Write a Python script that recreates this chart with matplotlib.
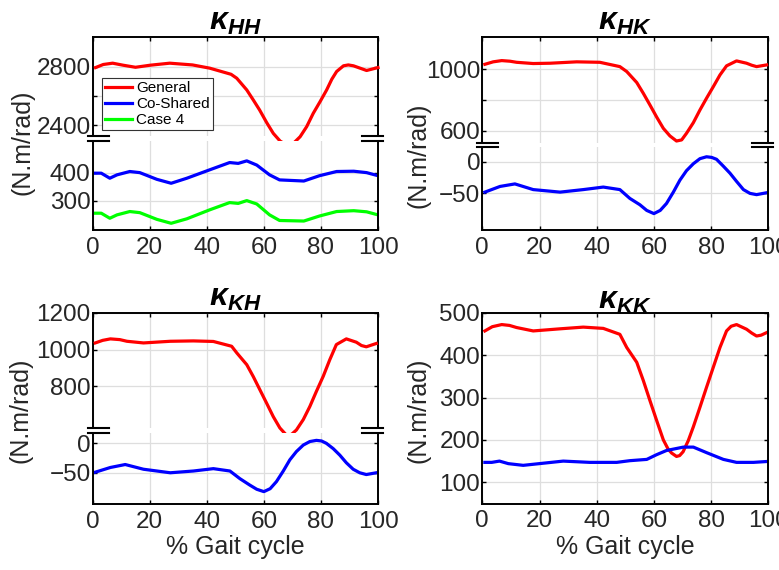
import matplotlib
matplotlib.use("Agg")
import matplotlib.pyplot as plt
from matplotlib.lines import Line2D

plt.rcParams["font.family"] = ["Liberation Sans", "DejaVu Sans"]
plt.rcParams["mathtext.fontset"] = "custom"
plt.rcParams["mathtext.it"] = "Liberation Sans:bold:italic"
plt.rcParams["mathtext.rm"] = "Liberation Sans:bold"
plt.rcParams["mathtext.bf"] = "Liberation Sans:bold"

# ---- data (x in % gait cycle) ----
# K_HH
hh_gen_x = [1, 3.7, 7, 10.7, 15, 20.1, 27, 35, 41, 48.5, 50.5, 54, 56.3, 58.5, 61, 63.3, 65.7, 68,
            70.3, 72.7, 75, 77.3, 79.7, 82, 83.8, 85.5, 87.9, 89.6, 91.4, 93.7, 96, 97.8, 100]
hh_gen_y = [2793, 2814, 2823, 2809, 2795, 2809, 2823, 2811, 2789, 2747, 2720, 2640, 2571, 2503, 2416,
            2343, 2290, 2263, 2274, 2320, 2389, 2480, 2560, 2640, 2713, 2766, 2805, 2811, 2805, 2789,
            2773, 2782, 2793]
hh_x = [1, 3, 6, 8.5, 13, 16.5, 22.5, 27.5, 33, 41, 48, 51, 54, 57.5, 62, 65.5, 74, 79.5, 85.5, 91.5, 96, 100]
hh_cos_y = [398, 398, 380, 392, 404, 400, 376, 362, 380, 410, 436, 433, 442, 427, 392, 374, 370, 389, 404, 405, 400, 389]
hh_c4_y = [255, 255, 237, 249, 261, 257, 233, 219, 235, 267, 293, 290, 300, 288, 249, 229, 227, 245, 261, 264, 260, 249]

# K_HK
hk_gen_x = [0.9, 3.8, 6.8, 9.7, 12.0, 17.8, 23.7, 33.0, 41.1, 48.1, 50.5, 54.0, 56.3, 58.6, 61.0, 63.3,
            65.6, 67.9, 69.7, 71.4, 73.8, 76.1, 78.4, 80.8, 83.1, 85.4, 88.9, 92.4, 94.2, 95.9, 99.4]
hk_gen_y = [1032, 1048, 1056, 1052, 1045, 1037, 1039, 1048, 1045, 1017, 985, 914, 844, 769, 689, 617,
            568, 535, 542, 585, 654, 736, 812, 888, 963, 1022, 1054, 1039, 1026, 1017, 1028]
cos_x = [0.9, 6.2, 11.4, 17.8, 27.2, 35.3, 42.3, 48.1, 51.6, 55.1, 57.5, 60.0, 62.2, 64.4, 66.8,
         69.1, 71.4, 73.8, 76.1, 78.4, 80.2, 81.9, 84.3, 86.6, 88.9, 91.3, 93.6, 95.9, 99.4]
hk_cos_y = [-48, -39, -35, -44, -48, -44, -40, -44, -58, -68, -77, -82, -77, -66, -48,
            -29, -14, -3, 5, 8, 7, 4, -7, -18, -31, -44, -50, -52, -49]

# K_KH
kh_gen_x = [0.9, 3.5, 6.2, 9.5, 12.0, 17.8, 27.2, 35.3, 42.3, 48.7, 50.5, 54.0, 56.3, 58.6, 61.0, 63.3,
            65.6, 67.9, 69.7, 71.4, 73.8, 76.1, 78.4, 80.8, 83.1, 85.4, 88.9, 92.4, 94.2, 95.9, 99.4]
kh_gen_y = [1036, 1050, 1058, 1054, 1045, 1036, 1045, 1047, 1044, 1018, 982, 918, 853, 782, 708, 636,
            575, 536, 540, 564, 620, 691, 773, 855, 945, 1027, 1058, 1040, 1022, 1015, 1033]
kh_cos_y = [-49, -41, -36, -44, -50, -47, -43, -47, -60, -71, -78, -82, -77, -65, -47,
            -28, -14, -3, 3, 5, 4, 0, -9, -20, -33, -44, -50, -53, -50]

# K_KK
kk_gen_x = [0.9, 3.5, 6.8, 9.5, 12.0, 17.8, 27.2, 35.3, 42.3, 48.1, 50.5, 52.3, 54.0, 56.3, 58.6, 61.0,
            63.3, 65.0, 66.2, 67.9, 69.0, 70.2, 72.0, 73.8, 76.1, 78.4, 80.8, 83.1, 85.4, 87.0, 88.9,
            92.4, 94.2, 95.9, 97.5, 99.4]
kk_gen_y = [457, 467, 472, 470, 465, 457, 462, 466, 463, 449, 418, 400, 383, 340, 293, 245,
            200, 178, 169, 161, 163, 172, 198, 231, 277, 324, 372, 418, 457, 468, 472,
            461, 452, 445, 447, 453]
kk_cos_x = [0.9, 3.3, 6.0, 9.1, 14.3, 21.3, 28.3, 37.6, 47.0, 51.6, 57.5, 60.9, 64.4, 70.3, 73.8, 78.4, 84.3, 88.9, 94.8, 99.4]
kk_cos_y = [147, 147, 150, 144, 140, 145, 150, 147, 147, 151, 154, 165, 175, 183, 183, 170, 154, 147, 147, 149]

x_ticks = [0, 20, 40, 60, 80, 100]
series_labels = ["General", "Co-Shared", "Case 4"]

W, H = 779, 570
RED, BLUE, GREEN = "#ff0000", "#0000ff", "#00ff00"
TXT = "#262626"
LW = 2.3


def px_axes(fig, left, right, top, bottom):
    return fig.add_axes([left / W, 1 - bottom / H, (right - left) / W, (bottom - top) / H])


def style(ax, ylim, yticks, ylabels, part):
    ax.set_xlim(0, 100)
    ax.set_ylim(*ylim)
    ax.set_xticks(x_ticks)
    ax.set_yticks(yticks)
    ax.set_yticklabels(ylabels)
    ax.grid(True, color="#dedede", linewidth=0.9)
    ax.set_axisbelow(True)
    for s in ax.spines.values():
        s.set_linewidth(1.4)
    ax.tick_params(direction="in", length=3, width=1, labelsize=17.5,
                   labelcolor=TXT, right=True, top=(part != "lower"))
    ax.tick_params(axis="y", pad=1.5)
    ax.tick_params(axis="x", pad=5)
    if part == "upper":
        ax.spines["bottom"].set_visible(False)
        ax.tick_params(axis="x", bottom=False, labelbottom=False)
    if part == "lower":
        ax.spines["top"].set_visible(False)


def draw_break(fig, left, right, y_up, y_low):
    for x0, x1 in [(left - 5, left + 16), (right - 16, right + 5)]:
        for y in (y_up, y_low):
            fig.add_artist(Line2D([x0 / W, x1 / W], [1 - y / H, 1 - y / H],
                                  color="black", lw=1.5))


def ylabel(fig, x, y):
    fig.text(x / W, 1 - y / H, "(N.m/rad)", rotation=90, ha="center", va="center",
             fontsize=18, color=TXT)


def title(ax, txt):
    ax.set_title(txt, fontsize=23, pad=3, color="black")


fig = plt.figure(figsize=(W / 100, H / 100), dpi=100)

# ---- K_HH ----
a1u = px_axes(fig, 92.7, 378, 37.3, 136)
a1l = px_axes(fig, 92.7, 378, 141, 230)
h1, = a1u.plot(hh_gen_x, hh_gen_y, color=RED, lw=LW, clip_on=False, zorder=5)
h2, = a1l.plot(hh_x, hh_cos_y, color=BLUE, lw=LW)
h3, = a1l.plot(hh_x, hh_c4_y, color=GREEN, lw=LW)
style(a1u, (2325, 3000), [2400, 2600, 2800], ["2400", "", "2800"], "upper")
style(a1l, (195, 513), [300, 400], ["300", "400"], "lower")
draw_break(fig, 92.7, 378, 136, 141)
title(a1u, r"$\kappa_{HH}$")
leg = a1u.legend([h1, h2, h3], series_labels, loc="upper left",
                 bbox_to_anchor=(0.0315, 0.585), borderaxespad=0, fontsize=11,
                 handlelength=1.8, handletextpad=0.25, labelspacing=0.12,
                 borderpad=0.2, fancybox=False, framealpha=1, edgecolor="#333333")
leg.get_frame().set_linewidth(0.8)
leg.set_zorder(10)
ylabel(fig, 23, 142)

# ---- K_HK ----
a2u = px_axes(fig, 482.3, 768.3, 37.3, 142.7)
a2l = px_axes(fig, 482.3, 768.3, 147.3, 230)
a2u.plot(hk_gen_x, hk_gen_y, color=RED, lw=LW, clip_on=False, zorder=5)
a2l.plot(cos_x, hk_cos_y, color=BLUE, lw=LW)
style(a2u, (524, 1207), [600, 800, 1000], ["600", "", "1000"], "upper")
style(a2l, (-108, 23), [-50, 0], ["\u221250", "0"], "lower")
draw_break(fig, 482.3, 768.3, 142.7, 147.3)
title(a2u, r"$\kappa_{HK}$")
ylabel(fig, 419, 155)

# ---- K_KH ----
a3u = px_axes(fig, 92.7, 378, 312.7, 428.3)
a3l = px_axes(fig, 92.7, 378, 433.3, 504)
a3u.plot(kh_gen_x, kh_gen_y, color=RED, lw=LW, clip_on=False, zorder=5)
a3l.plot(cos_x, kh_cos_y, color=BLUE, lw=LW)
style(a3u, (573, 1200), [800, 1000, 1200], ["800", "1000", "1200"], "upper")
style(a3l, (-103, 17), [-50, 0], ["\u221250", "0"], "lower")
draw_break(fig, 92.7, 378, 428.3, 433.3)
title(a3u, r"$\kappa_{KH}$")
ylabel(fig, 21, 410)
fig.text(235 / W, 1 - 547 / H, "% Gait cycle", ha="center", va="center",
         fontsize=18, color=TXT)

# ---- K_KK ----
a4 = px_axes(fig, 482.3, 768.3, 312.7, 503.5)
a4.plot(kk_gen_x, kk_gen_y, color=RED, lw=LW)
a4.plot(kk_cos_x, kk_cos_y, color=BLUE, lw=LW)
style(a4, (50, 500), [100, 200, 300, 400, 500], ["100", "200", "300", "400", "500"], "full")
title(a4, r"$\kappa_{KK}$")
ylabel(fig, 418, 410)
fig.text(625 / W, 1 - 547 / H, "% Gait cycle", ha="center", va="center",
         fontsize=18, color=TXT)

fig.savefig("out.png", dpi=100)
plt.close(fig)
